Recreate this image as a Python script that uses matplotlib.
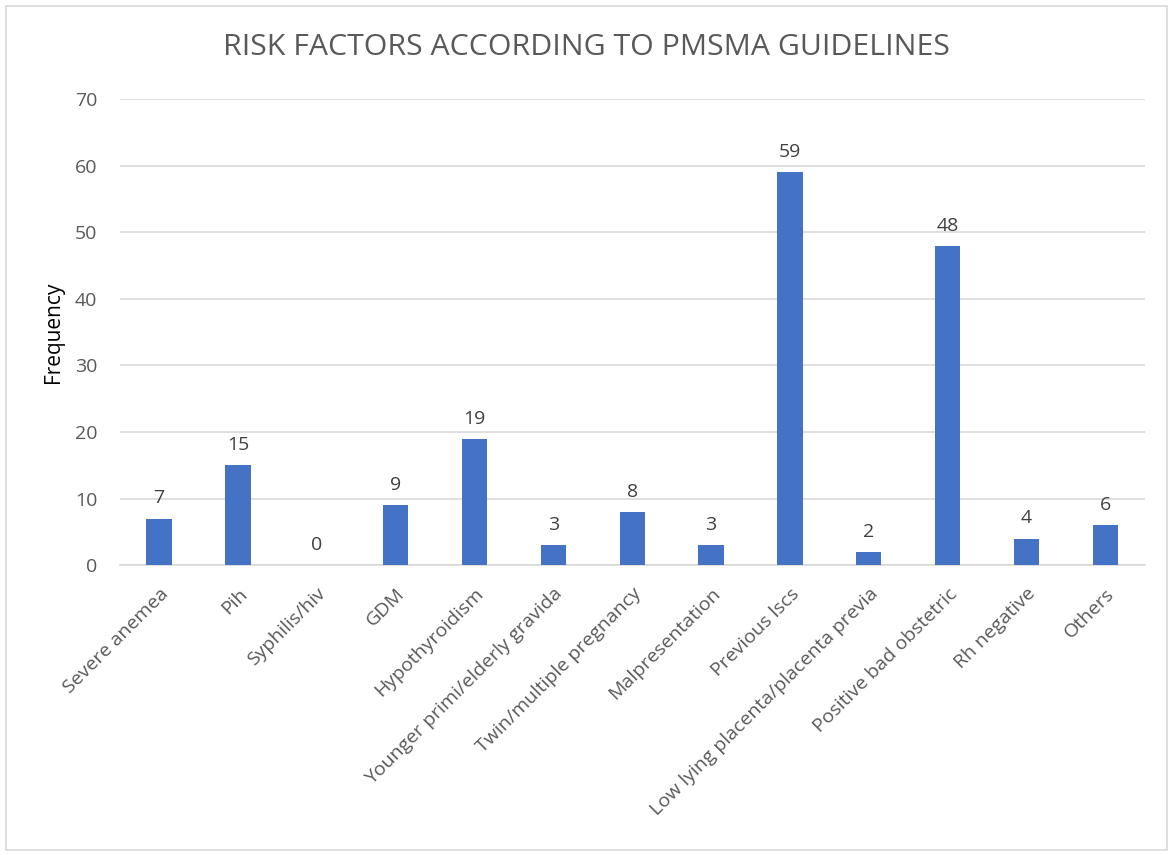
import matplotlib
matplotlib.use("Agg")
import matplotlib.pyplot as plt
from matplotlib.patches import Rectangle

# Risk factor counts
categories = ["Severe anemea", "Pih", "Syphilis/hiv", "GDM", "Hypothyroidism",
              "Younger primi/elderly gravida", "Twin/multiple pregnancy",
              "Malpresentation", "Previous lscs", "Low lying placenta/placenta previa",
              "Positive bad obstetric", "Rh negative", "Others"]
frequency = [7, 15, 0, 9, 19, 3, 8, 3, 59, 2, 48, 4, 6]
y_ticks = [0, 10, 20, 30, 40, 50, 60, 70]

plt.rcParams["font.family"] = ["Open Sans", "DejaVu Sans"]

fig = plt.figure(figsize=(11.73, 8.55), dpi=100)
ax = fig.add_axes([0.102, 0.339, 0.874, 0.545])

x = range(len(categories))
ax.bar(x, frequency, width=0.32, color="#4472C4", zorder=3)

# value labels above each bar
for xi, v in zip(x, frequency):
    ax.annotate(str(v), (xi, v), xytext=(0, 8), textcoords="offset points",
                ha="center", va="bottom", fontsize=14, color="#404040")

ax.set_xlim(-0.5, len(categories) - 0.5)
ax.set_ylim(0, 70)
ax.set_yticks(y_ticks)
ax.set_xticks(list(x))
ax.set_xticklabels(categories, rotation=45, ha="right", rotation_mode="anchor",
                   fontsize=14, color="#595959")
ax.tick_params(axis="y", labelsize=14, labelcolor="#595959", length=0, pad=16)
ax.tick_params(axis="x", length=0, pad=14)
ax.grid(axis="y", color="#d9d9d9", linewidth=1.2, zorder=0)

for side in ["top", "right", "left"]:
    ax.spines[side].set_visible(False)
ax.spines["bottom"].set_color("#d9d9d9")
ax.spines["bottom"].set_linewidth(1.2)

ax.set_ylabel("Frequency", fontsize=15, color="black", labelpad=8)
fig.text(0.5, 0.945, "RISK FACTORS ACCORDING TO PMSMA GUIDELINES",
         ha="center", va="center", fontsize=21.8, color="#595959")

# light chart border
fig.patches.append(Rectangle((0.005, 0.006), 0.99, 0.987, transform=fig.transFigure,
                             fill=False, edgecolor="#d9d9d9", linewidth=1.2))

plt.savefig("out.png", dpi=100)
